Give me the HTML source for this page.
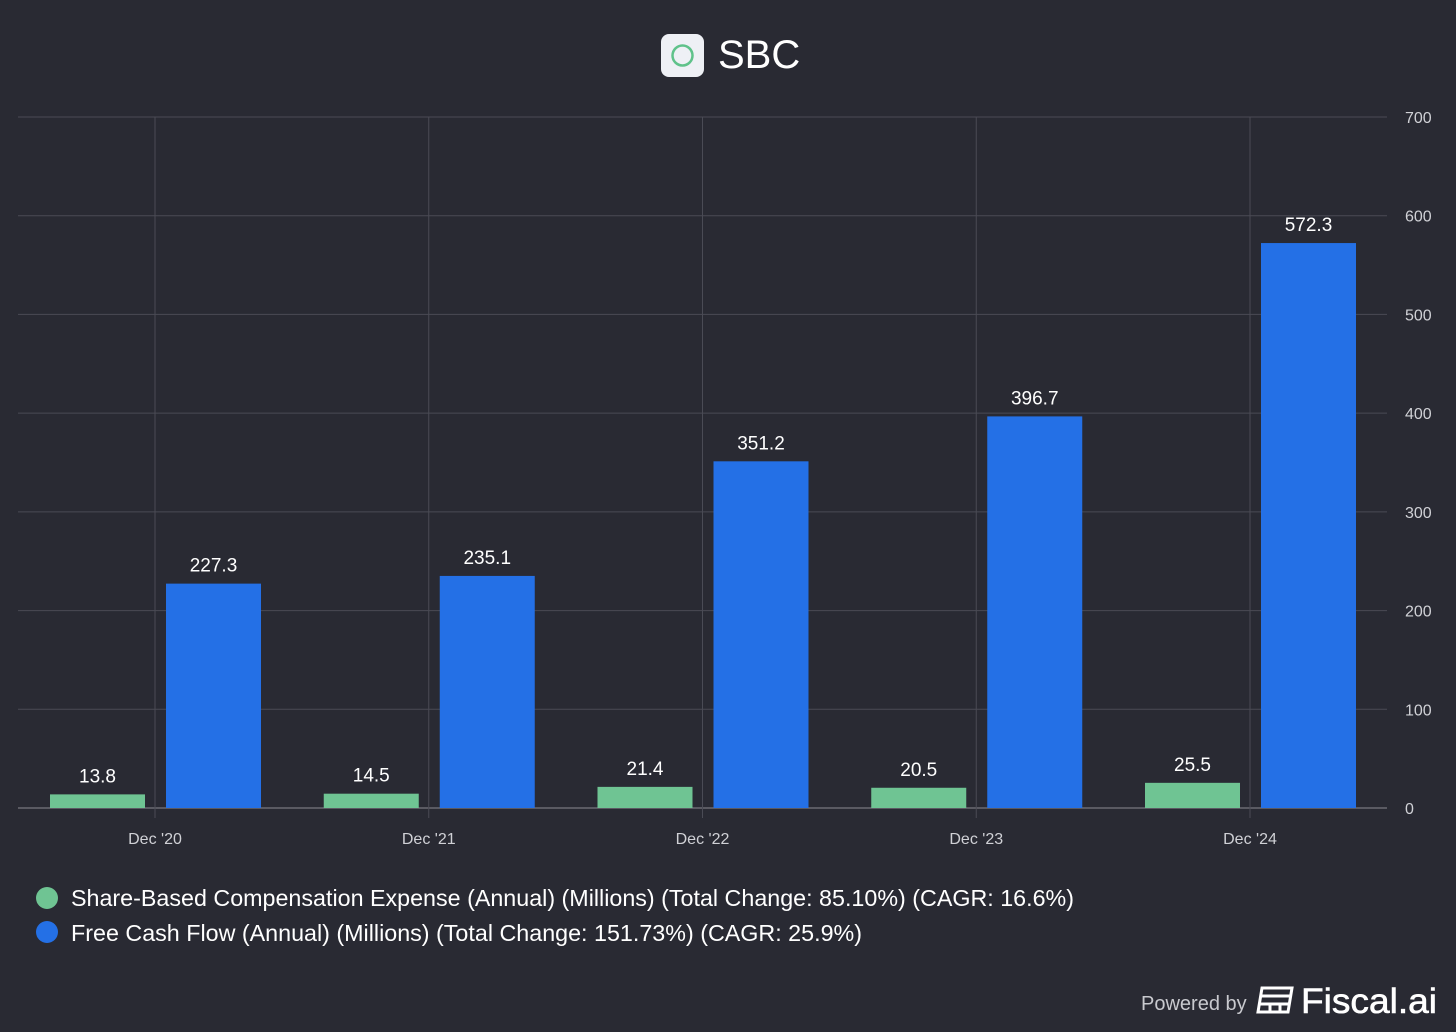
<!DOCTYPE html>
<html><head><meta charset="utf-8"><style>
body{margin:0;width:1456px;height:1032px;background:#292a33;font-family:"Liberation Sans",sans-serif;overflow:hidden}
svg{display:block}
</style></head><body>
<svg width="1456" height="1032">
<rect x="661" y="34" width="43" height="43" rx="8" fill="#eef0f5"/>
<circle cx="682.5" cy="55.5" r="10" fill="none" stroke="#5fc28a" stroke-width="2.5"/>
<text x="718" y="68" font-size="40" fill="#fff">SBC</text>
<g id="grid"></g><g id="bars"></g>
<circle cx="47" cy="898" r="11" fill="#6fc493"/>
<text x="71" y="906" font-size="23" textLength="1003" lengthAdjust="spacingAndGlyphs" fill="#fff">Share-Based Compensation Expense (Annual) (Millions) (Total Change: 85.10%) (CAGR: 16.6%)</text>
<circle cx="47" cy="932" r="11" fill="#2470e6"/>
<text x="71" y="941" font-size="23" textLength="791" lengthAdjust="spacingAndGlyphs" fill="#fff">Free Cash Flow (Annual) (Millions) (Total Change: 151.73%) (CAGR: 25.9%)</text>
<text x="1141" y="1010" font-size="20" fill="#c8c9ce">Powered by</text>
<g fill="none" stroke="#fff" stroke-width="3">
<path d="M1262 988 h30 l-4 24 h-30 z"/><path d="M1261 996 h29 M1260 1004 h29 M1270 1004 v8 M1280 1004 v8"/></g>
<text x="1301" y="1013" font-size="35" textLength="136" lengthAdjust="spacingAndGlyphs" fill="#fff" stroke="#fff" stroke-width="0.6">Fiscal.ai</text>
</svg>
<script>
const categories=["Dec '20","Dec '21","Dec '22","Dec '23","Dec '24"];
const sbcValues=[13.8,14.5,21.4,20.5,25.5];
const fcfValues=[227.3,235.1,351.2,396.7,572.3];
const yTicks=[0,100,200,300,400,500,600,700];
const NS="http://www.w3.org/2000/svg";
const y=v=>808-v*(691/700);
const xc=i=>155+i*273.75;
const grid=document.getElementById('grid'),bars=document.getElementById('bars');
function mk(p,tag,attrs){const e=document.createElementNS(NS,tag);for(const k in attrs)e.setAttribute(k,attrs[k]);p.appendChild(e);return e;}
yTicks.forEach(t=>{
 const l=mk(grid,'line',{x1:18,x2:1387,y1:y(t),y2:y(t),stroke:t===0?'#8a8b92':'#4a4b55','stroke-width':1});
 
 
 const tx=mk(grid,'text',{x:1405,y:y(t)+6,'font-size':16,fill:'#d0d1d6'});tx.textContent=t;
 
 
});
categories.forEach((c,i)=>{
 const l=mk(grid,'line',{x1:xc(i),x2:xc(i),y1:117,y2:818,stroke:'#4a4b55','stroke-width':1});
 
 
 const tx=mk(grid,'text',{x:xc(i),y:844,'font-size':16,fill:'#d0d1d6','text-anchor':'middle'});tx.textContent=c;
 
 
 [[sbcValues[i],-105,'#6fc493','sbc'],[fcfValues[i],11,'#2470e6','fcf']].forEach(([v,off,col,nm])=>{
  const r=mk(bars,'rect',{x:xc(i)+off,y:y(v),width:95,height:808-y(v),fill:col});
  
  
  const t=mk(bars,'text',{x:xc(i)+off+47.5,y:y(v)-12,'font-size':19,fill:'#fff','text-anchor':'middle'});t.textContent=v.toFixed(1);
  
  
 });
});
</script>
</body></html>
